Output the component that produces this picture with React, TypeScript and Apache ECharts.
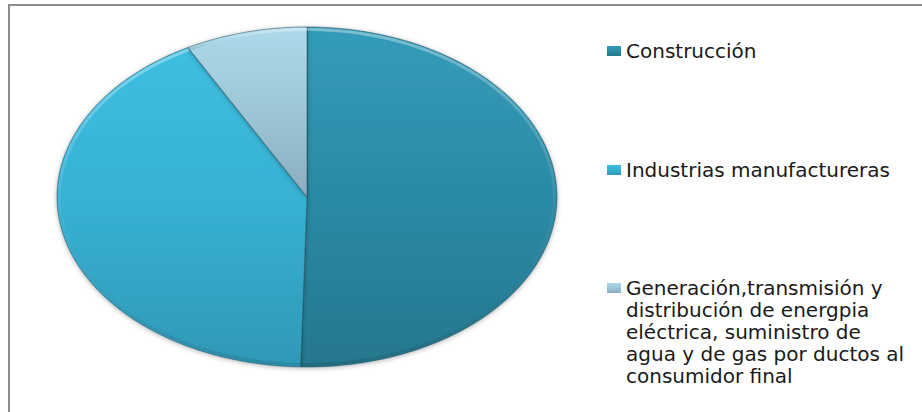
import { useEffect, useRef } from 'react';
import * as echarts from 'echarts';

const categories = [
  'Construcción',
  'Industrias manufactureras',
  'Generación,transmisión y distribución de energpia eléctrica, suministro de agua y de gas por ductos al consumidor final',
];
const legendLines = [
  ['Construcción'],
  ['Industrias manufactureras'],
  ['Generación,transmisión y', 'distribución de energpia', 'eléctrica, suministro de', 'agua y de gas por ductos al', 'consumidor final'],
];
const values = [50.4, 41.7, 7.9];

const sliceColors = [
  ['#339cb9', '#2b8aa5', '#25778d'],
  ['#3dbfe2', '#37b0d3', '#2f98b6'],
  ['#acdaea', '#9cc6d6', '#8aaebd'],
];

const CX = 307;
const CY = 197;
const RX = 250;
const RY = 170;

function grad(c: string[]) {
  return new echarts.graphic.LinearGradient(0, 0, 0, 1, [
    { offset: 0, color: c[0] },
    { offset: 0.5, color: c[1] },
    { offset: 1, color: c[2] },
  ]);
}

export default function App() {
  const ref = useRef<HTMLDivElement>(null);
  useEffect(() => {
    if (!ref.current) return;
    const chart = echarts.init(ref.current, null, { renderer: 'svg' });
    const total = values.reduce((a, b) => a + b, 0);
    let acc = 0;
    const ranges = values.map((v) => {
      const s = acc / total;
      acc += v;
      return [s, acc / total];
    });
    const series = categories.map((name, i) => ({
      type: 'custom',
      name,
      coordinateSystem: 'none',
      itemStyle: { color: grad(sliceColors[i]) },
      data: [ranges[i]],
      renderItem: (_p: any, api: any) => {
        const a0 = api.value(0) * Math.PI * 2;
        const a1 = api.value(1) * Math.PI * 2;
        const pts: number[][] = [[CX, CY]];
        const rim: number[][] = [];
        const n = Math.max(12, Math.ceil(((a1 - a0) * 180) / Math.PI));
        for (let k = 0; k <= n; k++) {
          const t = a0 + ((a1 - a0) * k) / n;
          pts.push([CX + RX * Math.sin(t), CY - RY * Math.cos(t)]);
          rim.push([CX + (RX - 2.5) * Math.sin(t), CY - (RY - 2.5) * Math.cos(t)]);
        }
        return {
          type: 'group',
          children: [
            {
              type: 'polygon',
              shape: { points: pts },
              style: {
                fill: grad(sliceColors[i]),
                stroke: 'rgba(20,60,75,0.45)',
                lineWidth: 1,
                shadowBlur: 5,
                shadowColor: 'rgba(0,0,0,0.3)',
                shadowOffsetY: 1,
              },
            },
            {
              type: 'polyline',
              shape: { points: rim },
              silent: true,
              style: {
                fill: null,
                lineWidth: 3,
                stroke: new echarts.graphic.LinearGradient(0, 0, 0, 1, [
                  { offset: 0, color: 'rgba(255,255,255,0.35)' },
                  { offset: 0.5, color: 'rgba(255,255,255,0.05)' },
                  { offset: 1, color: 'rgba(0,0,0,0.10)' },
                ]),
              },
            },
          ],
        };
      },
    }));
    const lineH = 22;
    const centers = [51, 170, 288];
    const legend = categories.map((name, i) => {
      const n = legendLines[i].length;
      const pad = n - 1;
      const totalLines = n + pad;
      return {
        data: [name],
        orient: 'vertical',
        left: 607,
        top: centers[i] - (totalLines * lineH) / 2,
        icon: 'rect',
        itemWidth: 14,
        itemHeight: 10,
        itemGap: 0,
        padding: 0,
        selectedMode: false,
        formatter: () => '\n'.repeat(pad) + legendLines[i].join('\n'),
        textStyle: {
          fontFamily: 'DejaVu Sans',
          fontSize: 20,
          color: '#1a1a1a',
          lineHeight: lineH,
        },
      };
    });
    chart.setOption({
      animation: false,
      backgroundColor: '#fff',
      legend,
      graphic: [
        {
          type: 'rect',
          shape: { x: 9, y: 5, width: 1000, height: 1000 },
          style: { fill: 'none', stroke: '#8c8c8c', lineWidth: 2 },
          silent: true,
        },
      ],
      series,
    });
    return () => chart.dispose();
  }, []);
  return (
    <div
      ref={ref}
      style={{ position: 'absolute', left: 0, top: 0, width: 922, height: 412 }}
    />
  );
}
